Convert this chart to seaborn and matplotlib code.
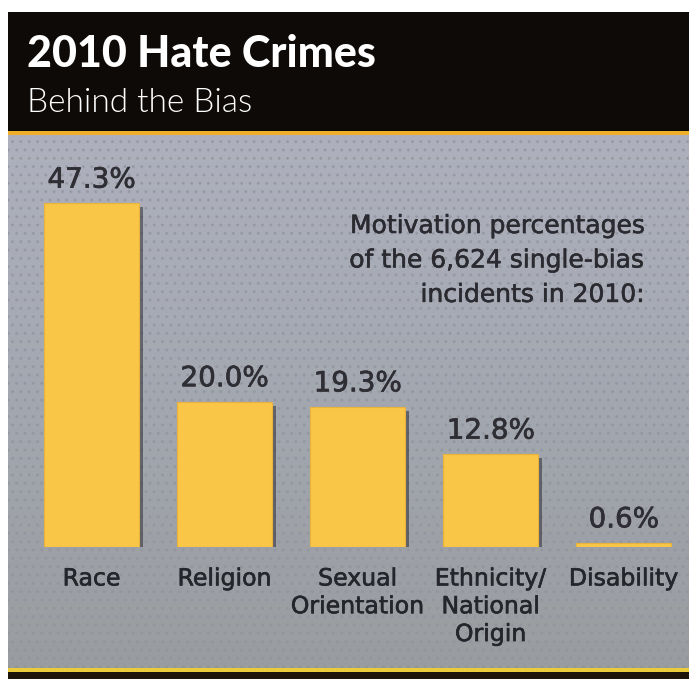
import numpy as np
import pandas as pd
import matplotlib
matplotlib.use("Agg")
import matplotlib.pyplot as plt
import matplotlib.patheffects as pe
from matplotlib.patches import Rectangle
from matplotlib import font_manager as fm
import seaborn as sns

# ---- data ----
categories = ["Race", "Religion", "Sexual\nOrientation", "Ethnicity/\nNational\nOrigin", "Disability"]
values = [47.3, 20.0, 19.3, 12.8, 0.6]
value_labels = ["47.3%", "20.0%", "19.3%", "12.8%", "0.6%"]
title = "2010 Hate Crimes"
subtitle = "Behind the Bias"
note = "Motivation percentages\nof the 6,624 single-bias\nincidents in 2010:"

sns.set_style("white")
plt.rcParams["font.family"] = ["DejaVu Sans"]

names = {f.name for f in fm.fontManager.ttflist}
if "Lato" in names:
    head_font, t_size, s_size, t_w, s_w = "Lato", 31, 24, 900, 300
else:
    head_font, t_size, s_size, t_w, s_w = "DejaVu Sans", 25, 20, "bold", "normal"

W, H = 689, 679
fig = plt.figure(figsize=(W / 100, H / 100), dpi=100, facecolor="white")

def fx(px):
    return px / W

def fy(py):
    return 1 - py / H

# header and panel decorations
fig.patches.append(Rectangle((fx(8), fy(131)), fx(681), 119 / H, transform=fig.transFigure,
                             facecolor="#0d0a08", edgecolor="none", zorder=0))
fig.patches.append(Rectangle((fx(8), fy(135)), fx(681), 4 / H, transform=fig.transFigure,
                             facecolor="#EEAE2A", edgecolor="none", zorder=0))
bg = fig.add_axes([fx(8), fy(668), fx(681), 533 / H], zorder=0)
grad = np.linspace(0, 1, 256).reshape(-1, 1)
cmap = matplotlib.colors.LinearSegmentedColormap.from_list("bgc", ["#AEB1BD", "#A3A7B0", "#999D9F"])
bg.imshow(grad, aspect="auto", cmap=cmap, extent=[0, 1, 0, 1], origin="upper")
bg.add_patch(Rectangle((0, 0), 1, 1, transform=bg.transAxes, facecolor="none",
                       edgecolor="#8F939D", linewidth=0, hatch="..", alpha=0.6))
bg.set_axis_off()

fig.patches.append(Rectangle((fx(8), fy(672)), fx(681), 4 / H, transform=fig.transFigure,
                             facecolor="#E8CC3C", edgecolor="none", zorder=5))
fig.patches.append(Rectangle((fx(8), 0), fx(681), 7 / H, transform=fig.transFigure,
                             facecolor="#1c150a", edgecolor="none", zorder=5))

# main axes
ax = fig.add_axes([fx(8), fy(547), fx(681), 411 / H], zorder=2)
ax.patch.set_alpha(0)
df = pd.DataFrame({"cat": categories, "val": values})
sns.barplot(data=df, x="cat", y="val", color="#F9C648", saturation=1, width=0.714, ax=ax,
            edgecolor="#E9B23A", linewidth=0.8)
for p in ax.patches:
    p.set_path_effects([pe.SimplePatchShadow(offset=(3, -3), shadow_rgbFace="#2c2c34", alpha=0.55),
                        pe.Normal()])

ax.set_xlim(-0.628, 4.49)
ax.set_ylim(0, 56.5)
ax.set_xlabel("")
ax.set_ylabel("")
ax.set_yticks([])
for s in ax.spines.values():
    s.set_visible(False)
ax.tick_params(axis="x", length=0, pad=14, labelsize=17, labelcolor="#25252c")
bold_fx = [pe.withStroke(linewidth=0.45, foreground="#25252c")]
for t in ax.get_xticklabels():
    t.set_path_effects(bold_fx)

for i, (v, lab) in enumerate(zip(values, value_labels)):
    ax.annotate(lab, (i, v), xytext=(0, 11), textcoords="offset points", ha="center",
                va="baseline", fontsize=20, color="#2e2e34",
                path_effects=[pe.withStroke(linewidth=0.5, foreground="#2e2e34")])

ax.text(fx(645), fy(214), note, transform=fig.transFigure, ha="right", va="top",
        multialignment="right", fontsize=18, color="#2a2a30", linespacing=1.55,
        path_effects=[pe.withStroke(linewidth=0.4, foreground="#2a2a30")])

fig.text(fx(27), fy(67), title, fontsize=t_size, fontweight=t_w, color="white",
         family=head_font, va="baseline", ha="left")
fig.text(fx(27), fy(112), subtitle, fontsize=s_size, fontweight=s_w, color="white",
         family=head_font, va="baseline", ha="left")

fig.savefig("out.png", dpi=100, facecolor="white")
